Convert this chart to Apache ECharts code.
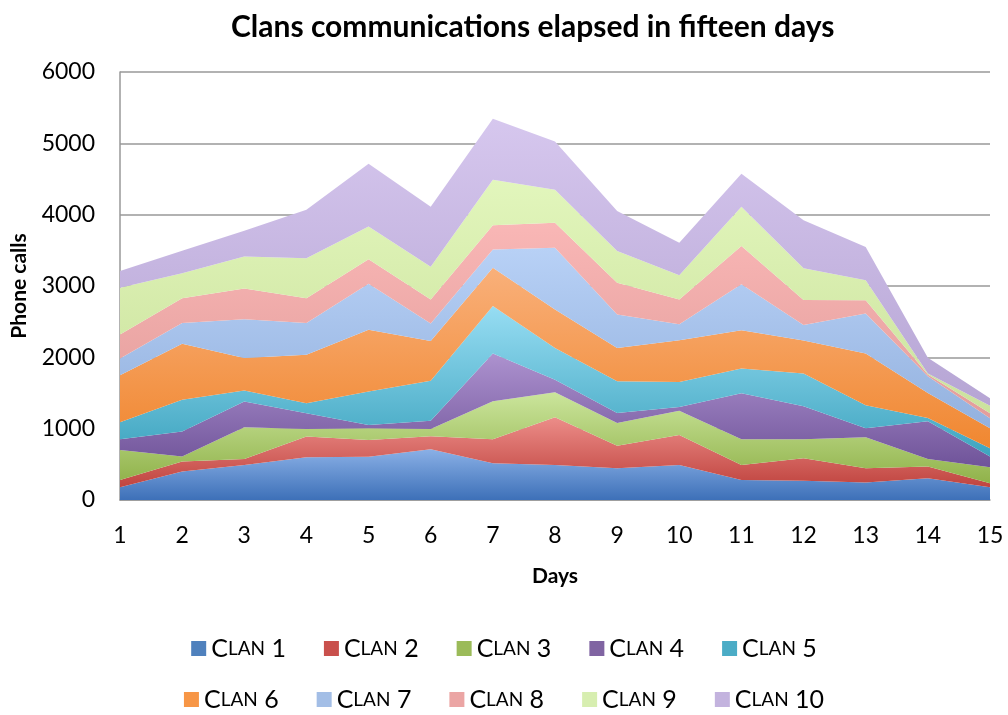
<!DOCTYPE html>
<html>
<head>
<meta charset="utf-8">
<title>Clans communications</title>
<script src="https://cdn.jsdelivr.net/npm/echarts@6/dist/echarts.min.js"></script>
<style>
  html, body { margin: 0; padding: 0; background: #fff; }
  #chart { width: 1008px; height: 715px; }
</style>
</head>
<body>
<div id="chart"></div>
<script>
var days = ['1', '2', '3', '4', '5', '6', '7', '8', '9', '10', '11', '12', '13', '14', '15']
var clanNames = ['Clan 1', 'Clan 2', 'Clan 3', 'Clan 4', 'Clan 5', 'Clan 6', 'Clan 7', 'Clan 8', 'Clan 9', 'Clan 10']

var clan1 = [180, 400, 490, 600, 605, 710, 515, 490, 445, 490, 280, 270, 245, 305, 180]
var clan2 = [100, 140, 85, 290, 235, 185, 335, 670, 315, 420, 210, 315, 200, 165, 55]
var clan3 = [420, 70, 445, 105, 165, 100, 535, 350, 320, 340, 360, 265, 435, 105, 225]
var clan4 = [150, 350, 360, 220, 45, 115, 670, 175, 140, 55, 645, 465, 125, 530, 150]
var clan5 = [240, 445, 155, 140, 470, 560, 665, 445, 445, 350, 350, 460, 325, 45, 115]
var clan6 = [660, 785, 455, 680, 865, 560, 535, 540, 465, 585, 535, 460, 725, 350, 280]
var clan7 = [235, 290, 545, 445, 645, 245, 255, 865, 470, 225, 645, 220, 560, 235, 140]
var clan8 = [335, 350, 430, 350, 345, 335, 340, 350, 445, 345, 535, 350, 185, 25, 70]
var clan9 = [655, 350, 450, 560, 460, 460, 640, 465, 445, 340, 550, 445, 280, 15, 105]
var clan10 = [235, 315, 360, 680, 880, 840, 855, 675, 560, 455, 465, 670, 465, 220, 105]

var clanValues = [clan1, clan2, clan3, clan4, clan5, clan6, clan7, clan8, clan9, clan10]

// light top / dark bottom, like the office gradient fill
var topColors = ['#8AB0E6', '#EC8D89', '#CBE59C', '#AD92CF', '#97DDF3', '#F9B07A', '#B8D1F6', '#F9B7B6', '#E2F6BC', '#D6C7EE']
var bottomColors = ['#3D70B8', '#C0443F', '#90B24A', '#6F5399', '#3EA4BF', '#F08730', '#93B1DE', '#E39D9B', '#CBE29D', '#B6A5D4']
var legendColors = ['#4F81BD', '#C9504C', '#9BBB59', '#8064A2', '#4BACC6', '#F79646', '#A3BEE6', '#EBA5A4', '#D7EEB0', '#C3B3DE']

var chart = echarts.init(document.getElementById('chart'))

var series = clanNames.map(function (name, i) {
    return {
        name: name,
        type: 'line',
        stack: 'total',
        symbol: 'none',
        lineStyle: { width: 0 },
        itemStyle: { color: legendColors[i] },
        areaStyle: {
            opacity: 1,
            color: new echarts.graphic.LinearGradient(0, 0, 0, 1, [
                { offset: 0, color: topColors[i] },
                { offset: 1, color: bottomColors[i] }
            ])
        },
        data: clanValues[i]
    }
})

var legendText = {
    rich: {
        c: { fontFamily: 'Lato', fontSize: 25, color: '#000' },
        s: { fontFamily: 'Lato', fontSize: 19, color: '#000' }
    }
}
var fmt = function (name) {
    var p = name.split(' ')
    return '{c|' + p[0].charAt(0) + '}{s|' + p[0].slice(1).toUpperCase() + '}{c| ' + p[1] + '}'
}

var option = {
    animation: false,
    title: {
        text: 'Clans communications elapsed in fifteen days',
        left: 226,
        top: 7,
        textStyle: { fontFamily: 'Lato', fontWeight: 'bold', fontSize: 30, color: '#000' }
    },
    grid: { left: 120, right: 18, top: 72, bottom: 215, outerBoundsMode: 'none' },
    legend: [{
        data: clanNames.slice(0, 5),
        left: 'center',
        top: 631,
        icon: 'rect',
        itemWidth: 15,
        itemHeight: 15,
        itemGap: 38,
        itemStyle: { borderWidth: 0 },
        formatter: fmt,
        textStyle: legendText
    }, {
        data: clanNames.slice(5),
        left: 'center',
        top: 682,
        icon: 'rect',
        itemWidth: 15,
        itemHeight: 15,
        itemGap: 38,
        itemStyle: { borderWidth: 0 },
        formatter: fmt,
        textStyle: legendText
    }],
    xAxis: {
        type: 'category',
        boundaryGap: false,
        data: days,
        name: 'Days',
        nameLocation: 'middle',
        nameGap: 66,
        nameTextStyle: { fontFamily: 'Lato', fontWeight: 'bold', fontSize: 21, color: '#000' },
        axisLine: { lineStyle: { color: '#999', width: 1.5 } },
        axisTick: { show: false },
        axisLabel: { fontFamily: 'Lato', fontSize: 23, color: '#000', margin: 24 }
    },
    yAxis: {
        type: 'value',
        min: 0,
        max: 6000,
        interval: 1000,
        name: 'Phone calls',
        nameLocation: 'middle',
        nameGap: 90,
        nameRotate: 90,
        nameTextStyle: { fontFamily: 'Lato', fontWeight: 'bold', fontSize: 21, color: '#000' },
        axisLine: { show: true, lineStyle: { color: '#999', width: 1.5 } },
        axisTick: { show: false },
        axisLabel: {
            fontFamily: 'Lato', fontSize: 23, color: '#000', margin: 25,
            formatter: function (v) { return String(v) }
        },
        splitLine: { lineStyle: { color: '#999', width: 1.5 } }
    },
    series: series
}

chart.setOption(option)
</script>
</body>
</html>
